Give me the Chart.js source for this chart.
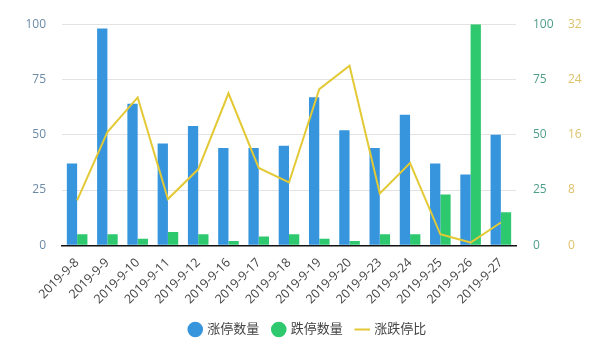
<!DOCTYPE html>
<html>
<head>
<meta charset="utf-8">
<script src="https://cdn.jsdelivr.net/npm/chart.js@4/dist/chart.umd.min.js"></script>
<style>
  html, body { margin: 0; padding: 0; background: #fff; }
  #wrap { width: 600px; height: 349px; }
</style>
</head>
<body>
<div id="wrap"><canvas id="grafico"></canvas></div>
<script>
// Datos del gráfico
const fechas = ['2019-9-8', '2019-9-9', '2019-9-10', '2019-9-11', '2019-9-12', '2019-9-16', '2019-9-17',
  '2019-9-18', '2019-9-19', '2019-9-20', '2019-9-23', '2019-9-24', '2019-9-25', '2019-9-26', '2019-9-27'];
const zhangting = [37, 98, 64, 46, 54, 44, 44, 45, 67, 52, 44, 59, 37, 32, 50];
const dieting = [5, 5, 3, 6, 5, 2, 4, 5, 3, 2, 5, 5, 23, 100, 15];
const bili = [6.5, 16.4, 21.4, 6.7, 11, 22, 11.2, 9.1, 22.6, 26, 7.5, 11.9, 1.6, 0.4, 3.3];
const nombres = ['涨停数量', '跌停数量', '涨跌停比'];

const fuente = '"Open Sans", "Noto Sans CJK SC", sans-serif';

const ctx = document.getElementById('grafico').getContext('2d');
new Chart(ctx, {
  type: 'bar',
  data: {
    labels: fechas,
    datasets: [
      {
        label: nombres[2],
        type: 'line',
        data: bili,
        yAxisID: 'y2',
        borderColor: '#e2c935',
        backgroundColor: '#e2c935',
        borderWidth: 2,
        pointRadius: 0,
        tension: 0,
        pointStyle: 'line',
        order: 0
      },
      {
        label: nombres[0],
        data: zhangting,
        yAxisID: 'y',
        backgroundColor: '#3695dc',
        pointStyle: 'circle',
        categoryPercentage: 0.68,
        barPercentage: 1,
        order: 1
      },
      {
        label: nombres[1],
        data: dieting,
        yAxisID: 'y1',
        backgroundColor: '#2ec86f',
        pointStyle: 'circle',
        categoryPercentage: 0.68,
        barPercentage: 1,
        order: 1
      }
    ]
  },
  options: {
    responsive: true,
    maintainAspectRatio: false,
    animation: false,
    layout: { padding: { left: 16, right: 0, top: 19, bottom: 3 } },
    plugins: {
      legend: {
        position: 'bottom',
        labels: {
          usePointStyle: true,
          boxWidth: 11,
          boxHeight: 11,
          padding: 14,
          color: '#444',
          font: { family: fuente, size: 13 },
          sort: (a, b) => [1, 2, 0].indexOf(a.datasetIndex) - [1, 2, 0].indexOf(b.datasetIndex)
        }
      },
      tooltip: { enabled: false }
    },
    scales: {
      x: {
        grid: { display: false },
        border: { display: true, color: '#111', width: 1.5 },
        ticks: {
          color: '#444',
          font: { family: fuente, size: 12.5 },
          minRotation: 45,
          maxRotation: 45,
          padding: 2
        }
      },
      y: {
        position: 'left',
        min: 0,
        max: 100,
        afterFit: (s) => { s.width = 46; },
        ticks: { stepSize: 25, color: '#6b8aa6', padding: 16, font: { family: fuente, size: 12 } },
        grid: { color: '#e3e3e3', drawTicks: false },
        border: { display: false }
      },
      y1: {
        position: 'right',
        min: 0,
        max: 100,
        afterFit: (s) => { s.width = 52; },
        ticks: { stepSize: 25, color: '#4f9e8a', padding: 17, font: { family: fuente, size: 12 } },
        grid: { drawOnChartArea: false, drawTicks: false },
        border: { display: false }
      },
      y2: {
        position: 'right',
        min: 0,
        max: 32,
        afterFit: (s) => { s.width = 32; },
        ticks: { stepSize: 8, color: '#dcc26a', padding: 0, font: { family: fuente, size: 12 } },
        grid: { drawOnChartArea: false, drawTicks: false },
        border: { display: false }
      }
    }
  }
});
</script>
</body>
</html>
